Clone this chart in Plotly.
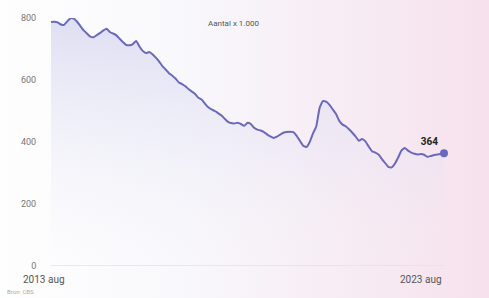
import plotly.graph_objects as go
import pandas as pd

months = pd.date_range("2013-08-01", "2023-08-01", freq="MS")
values = [
    787, 788, 786, 779, 778, 790, 800, 798, 788, 774,
    760, 750, 740, 738, 745, 752, 760, 765, 754, 750,
    744, 733, 722, 713, 712, 716, 726, 708, 694, 687,
    690, 683, 672, 660, 645, 634, 622, 614, 605, 592,
    587, 580, 570, 563, 555, 543, 537, 524, 512, 505,
    500, 493, 486, 475, 465, 461, 460, 462, 458, 452,
    462, 458, 446, 440, 437, 432, 424, 418, 413, 417,
    424, 430, 432, 433, 432, 420, 404, 388, 384, 400,
    428, 450, 510, 532, 530, 520, 505, 490, 468, 456,
    450, 441, 430, 418, 404, 410, 402, 385, 370, 366,
    360, 345, 332, 320, 318, 330, 350, 372, 381, 372,
    366, 362, 360, 361, 358, 352, 355, 358, 360, 361,
    364,
]
y_ticks = [0, 200, 400, 600, 800]
x_labels = ["2013 aug", "2023 aug"]
unit_label = "Aantal x 1.000"
source_label = "Bron: CBS."

W, H = 489, 298
L, R, T, B = 51, 45, 18, 32
pw, ph = W - L - R, H - T - B

def px(xp):
    return (xp - L) / pw

def py(yp):
    return (H - B - yp) / ph

line_color = "#6a69bd"

fig = go.Figure()
fig.add_trace(go.Scatter(
    x=months, y=values, mode="lines",
    line=dict(color=line_color, width=2, shape="spline", smoothing=0.4),
    fill="tozeroy",
    fillgradient=dict(type="vertical", colorscale=[[0, "rgba(240,240,250,0.0)"], [1, "rgba(210,210,238,0.7)"]]),
    cliponaxis=False, hoverinfo="skip", showlegend=False,
))
fig.add_trace(go.Scatter(
    x=[months[-1]], y=[values[-1]], mode="markers+text",
    marker=dict(color=line_color, size=8),
    text=[f"<b>{values[-1]}</b>"], textposition="top left",
    textfont=dict(family="Roboto, Arial", size=10, color="#222"),
    cliponaxis=False, showlegend=False, hoverinfo="skip",
))

svg = ("data:image/svg+xml;utf8,<svg xmlns='http://www.w3.org/2000/svg' width='100' height='100' preserveAspectRatio='none'>"
       "<defs><linearGradient id='g' x1='0' y1='0' x2='1' y2='0'>"
       "<stop offset='0' stop-color='%23fefefe'/><stop offset='0.4' stop-color='%23f8f7fb'/>"
       "<stop offset='1' stop-color='%23f6e1ec'/></linearGradient></defs>"
       "<rect width='100' height='100' fill='url(%23g)'/></svg>")

def note(text, x, y, size, color, xanchor="center"):
    return dict(text=text, xref="paper", yref="paper", x=px(x), y=py(y),
                xanchor=xanchor, yanchor="middle", showarrow=False,
                font=dict(size=size, color=color))

fig.update_layout(
    width=W, height=H,
    margin=dict(l=L, r=R, t=T, b=B),
    paper_bgcolor="#ffffff", plot_bgcolor="rgba(0,0,0,0)",
    font=dict(family="Roboto, Arial", size=9, color="#777"),
    images=[dict(source=svg, xref="paper", yref="paper", x=px(0), y=py(0),
                 sizex=px(W) - px(0), sizey=py(0) - py(H), sizing="stretch",
                 xanchor="left", yanchor="top", layer="below")],
    xaxis=dict(range=[months[0], months[-1]], showgrid=False, showticklabels=False,
               zeroline=False, showline=False),
    yaxis=dict(range=[0, 800], tickvals=y_ticks, showgrid=False, zeroline=False,
               showline=False, ticks="outside", ticklen=12, tickcolor="rgba(0,0,0,0)",
               tickfont=dict(size=9, color="#777")),
    shapes=[dict(type="line", xref="paper", yref="y", x0=0, x1=1, y0=0, y1=0,
                 line=dict(color="#dce3ee", width=1.5))],
    annotations=[
        note(unit_label, 233, 24, 8, "#555"),
        note(x_labels[0], 44, 279, 10, "#555"),
        note(x_labels[1], 444, 279, 10, "#555", xanchor="right"),
        note(source_label, 5, 291, 6, "#aaa", xanchor="left"),
    ],
)
fig.write_html("out.html", config={"displayModeBar": False},
               post_script="document.body.style.margin='0';document.body.style.overflow='hidden';")
